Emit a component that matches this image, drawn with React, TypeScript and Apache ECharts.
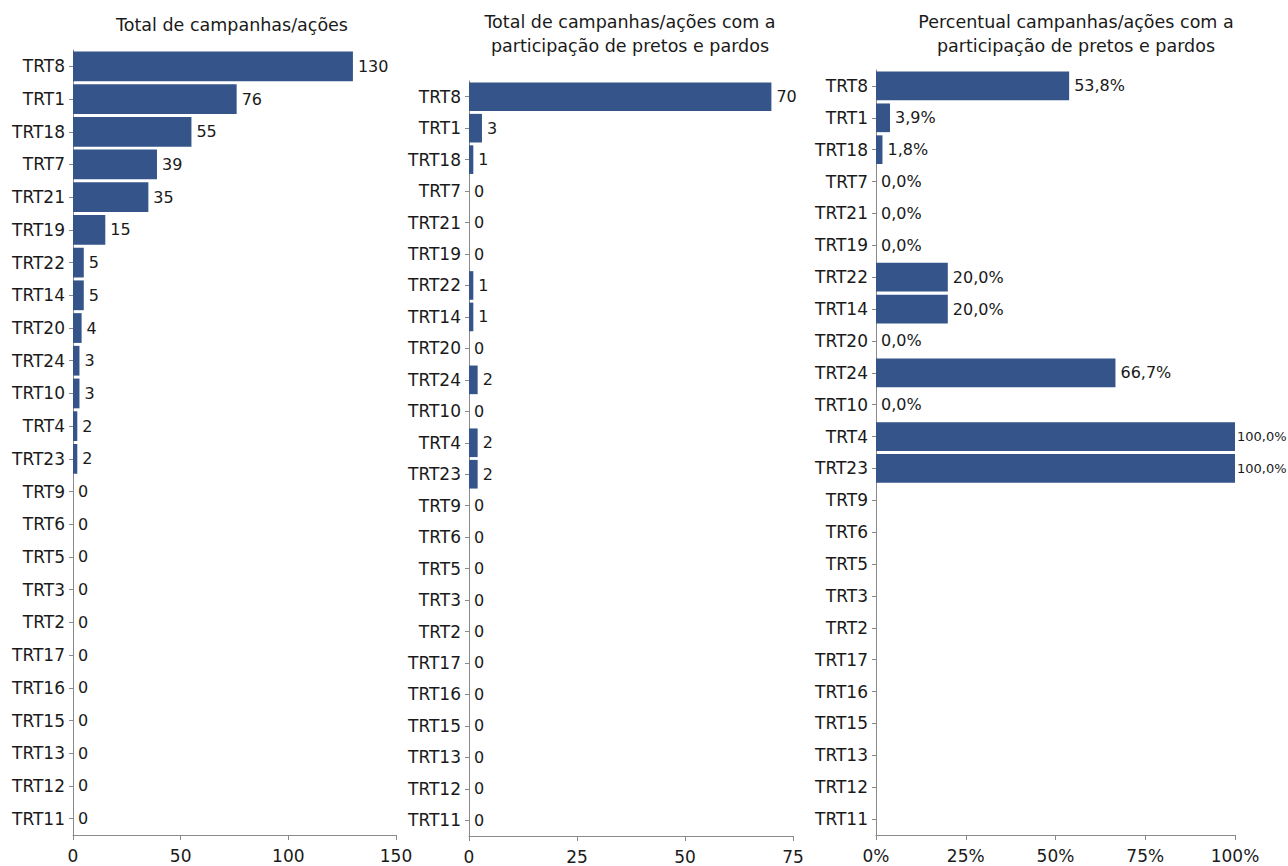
import React, { useEffect, useRef } from "react";
import * as echarts from "echarts";

const categories = [
  "TRT8", "TRT1", "TRT18", "TRT7", "TRT21", "TRT19", "TRT22", "TRT14",
  "TRT20", "TRT24", "TRT10", "TRT4", "TRT23", "TRT9", "TRT6", "TRT5",
  "TRT3", "TRT2", "TRT17", "TRT16", "TRT15", "TRT13", "TRT12", "TRT11",
];
const totalCampanhas = [130, 76, 55, 39, 35, 15, 5, 5, 4, 3, 3, 2, 2, 0, 0, 0, 0, 0, 0, 0, 0, 0, 0, 0];
const comPretosPardos = [70, 3, 1, 0, 0, 0, 1, 1, 0, 2, 0, 2, 2, 0, 0, 0, 0, 0, 0, 0, 0, 0, 0, 0];
const percentual: (number | null)[] = [
  53.8, 3.9, 1.8, 0, 0, 0, 20, 20, 0, 66.7, 0, 100, 100,
  null, null, null, null, null, null, null, null, null, null, null,
];
const titles = [
  "Total de campanhas/ações",
  "Total de campanhas/ações com a\nparticipação de pretos e pardos",
  "Percentual campanhas/ações com a\nparticipação de pretos e pardos",
];

const FONT = "DejaVu Sans";
const TEXT = "#1a1a1a";
const AXIS = "#8a8a8a";
const BAR = "#34548a";

export default function App() {
  const ref = useRef<HTMLDivElement>(null);
  useEffect(() => {
    if (!ref.current) return;
    const chart = echarts.init(ref.current, undefined, { renderer: "svg" });

    const grids = [
      { left: 73, top: 50, width: 323, height: 785 },
      { left: 469, top: 81, width: 324, height: 755 },
      { left: 876, top: 70, width: 359, height: 765 },
    ];
    const maxes = [150, 75, 100];
    const intervals = [50, 25, 25];

    const xAxes = grids.map((_, i) => ({
      type: "value",
      gridIndex: i,
      min: 0,
      max: maxes[i],
      interval: intervals[i],
      axisLine: { show: true, lineStyle: { color: AXIS, width: 1 } },
      axisTick: { show: true, length: 5, lineStyle: { color: AXIS } },
      splitLine: { show: false },
      axisLabel: {
        color: TEXT,
        fontFamily: FONT,
        fontSize: 17,
        margin: 12,
        formatter: i === 2 ? (v: number) => `${v}%` : (v: number) => `${v}`,
      },
    }));

    const yAxes = grids.map((_, i) => ({
      type: "category",
      gridIndex: i,
      data: categories,
      inverse: true,
      axisLine: { show: true, lineStyle: { color: AXIS, width: 1 } },
      axisTick: { show: true, length: 4, alignWithLabel: true, lineStyle: { color: AXIS } },
      axisLabel: { color: TEXT, fontFamily: FONT, fontSize: 17, margin: 8, interval: 0 },
    }));

    const labelBase = {
      show: true,
      position: "right",
      distance: 5,
      color: TEXT,
      fontFamily: FONT,
      fontSize: 16,
    };

    const series = [
      {
        type: "bar",
        xAxisIndex: 0,
        yAxisIndex: 0,
        data: totalCampanhas,
        barCategoryGap: "9%",
        itemStyle: { color: BAR },
        label: { ...labelBase },
      },
      {
        type: "bar",
        xAxisIndex: 1,
        yAxisIndex: 1,
        data: comPretosPardos,
        barCategoryGap: "9%",
        itemStyle: { color: BAR },
        label: { ...labelBase },
      },
      {
        type: "bar",
        xAxisIndex: 2,
        yAxisIndex: 2,
        data: percentual.map((v) =>
          v !== null && v >= 100
            ? { value: v, label: { fontSize: 13, distance: 2 } }
            : v
        ),
        barCategoryGap: "10%",
        itemStyle: { color: BAR },
        label: {
          ...labelBase,
          formatter: (p: any) =>
            p.value === null || p.value === undefined || p.value === "-"
              ? ""
              : `${Number(p.value).toFixed(1).replace(".", ",")}%`,
        },
      },
    ];

    const titleX = [232, 630, 1076];
    const titleY = [13, 10, 10];
    const graphic = titles.map((t, i) => ({
      type: "text",
      x: titleX[i],
      y: titleY[i],
      style: {
        text: t,
        fill: TEXT,
        font: `17.5px "${FONT}"`,
        align: "center",
        verticalAlign: "top",
        lineHeight: 24,
      },
    }));

    chart.setOption({
      animation: false,
      backgroundColor: "#ffffff",
      grid: grids,
      xAxis: xAxes,
      yAxis: yAxes,
      series,
      graphic,
    } as any);

    return () => chart.dispose();
  }, []);

  return (
    <div
      ref={ref}
      style={{ position: "fixed", left: 0, top: 0, width: 1288, height: 866, background: "#fff" }}
    />
  );
}
